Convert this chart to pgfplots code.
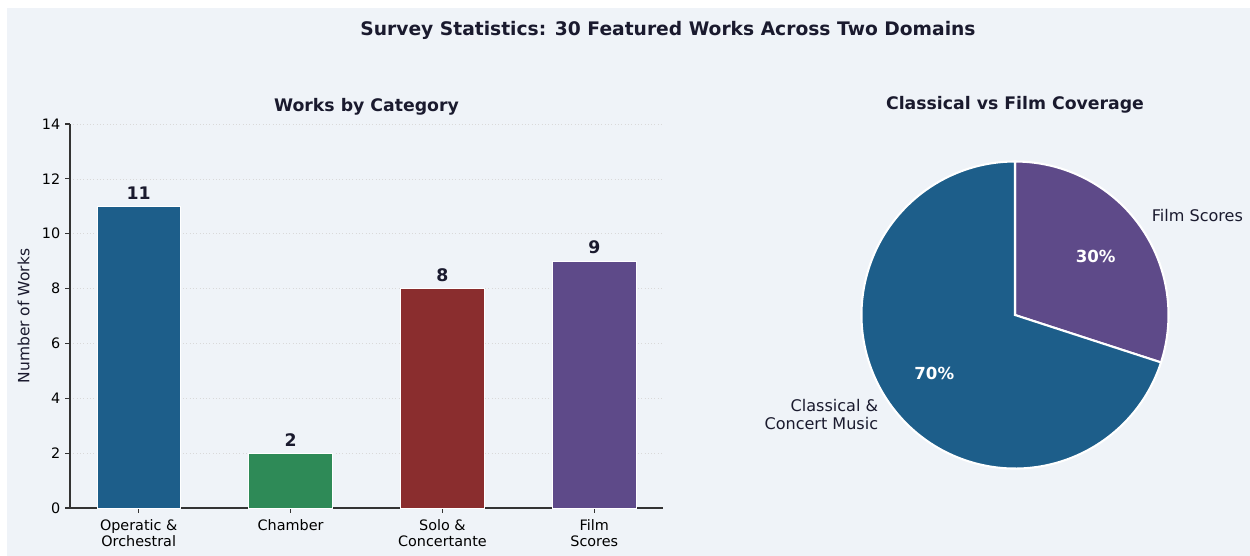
\documentclass[border=0pt]{standalone}
\usepackage{pgfplots}
\pgfplotsset{compat=1.18}
\usepackage{fontspec}
\setmainfont{DejaVu Sans}
\definecolor{bgc}{HTML}{EFF3F8}
\definecolor{txt}{HTML}{1A1A2E}
\definecolor{cblue}{HTML}{1D5E8A}
\definecolor{cgreen}{HTML}{2E8A57}
\definecolor{cred}{HTML}{8A2D2E}
\definecolor{cpurple}{HTML}{5E4A89}
\definecolor{spine}{HTML}{333333}
\begin{document}
\begin{tikzpicture}
\fill[white] (0,0) rectangle (900bp,-400.32bp);
\fill[bgc] (5.04bp,-5.76bp) rectangle (900bp,-400.32bp);
\node[font=\bfseries\fontsize{13.5}{16}\selectfont, text=txt, anchor=base] at (480.96bp,-25.6bp) {Survey Statistics: 30 Featured Works Across Two Domains};
% ---------------- bar chart ----------------
\begin{axis}[
  at={(50.4bp,-365.76bp)}, anchor=south west,
  scale only axis, width=426.96bp, height=276.48bp,
  xmin=-0.4525, xmax=3.4525, ymin=0, ymax=14,
  axis x line*=bottom, axis y line*=left,
  axis line style={spine, line width=0.8pt, -},
  xtick={0,1,2,3},
  xticklabels={{Operatic \&\\Orchestral},{Chamber},{Solo \&\\Concertante},{Film\\Scores}},
  ytick={0,2,...,14},
  tick align=outside, major tick length=3.5pt,
  tick style={spine, line width=0.8pt},
  xtick pos=bottom, ytick pos=left,
  /pgf/number format/assume math mode=true,
  ticklabel style={font=\fontsize{10.4}{11.8}\selectfont, text=black},
  xticklabel style={align=center, anchor=north, yshift=-1pt},
  ymajorgrids, grid style={dotted, gray!30, line width=0.5pt},
  ylabel={Number of Works},
  ylabel style={font=\fontsize{11.2}{13}\selectfont, text=txt, yshift=2pt},
  title={Works by Category},
  title style={font=\bfseries\fontsize{12.5}{14}\selectfont, text=txt, yshift=-3pt},
  ybar, bar width=0.55, bar shift=0pt,
  nodes near coords,
  nodes near coords style={font=\bfseries\fontsize{12.5}{14}\selectfont, text=txt, yshift=1.5pt},
  clip=false,
]
\addplot[fill=cblue, draw=white, line width=0.6pt] coordinates {(0,11)};
\addplot[fill=cgreen, draw=white, line width=0.6pt] coordinates {(1,2)};
\addplot[fill=cred, draw=white, line width=0.6pt] coordinates {(2,8)};
\addplot[fill=cpurple, draw=white, line width=0.6pt] coordinates {(3,9)};
\end{axis}
% ---------------- pie chart ----------------
\begin{axis}[
  at={(730.8bp,-226.8bp)}, anchor=center,
  x=110.52bp, y=110.52bp,
  xmin=-1, xmax=1, ymin=-1, ymax=1,
  hide axis, clip=false,
]
% Classical & Concert Music 70, Film Scores 30 (start angle 90, clockwise)
\fill[cpurple, draw=white, line width=1.5pt] (axis cs:0,0) -- (axis cs:0,1) arc[start angle=90, end angle={90-30*3.6}, radius=110.52bp] -- cycle;
\fill[cblue, draw=white, line width=1.5pt] (axis cs:0,0) -- (axis cs:{cos(90-30*3.6)},{sin(90-30*3.6)}) arc[start angle={90-30*3.6}, end angle=-270, radius=110.52bp] -- cycle;
\node[font=\bfseries\fontsize{12}{14}\selectfont, text=white] at (axis cs:{0.65*cos(36)},{0.65*sin(36)}) {30\%};
\node[font=\bfseries\fontsize{12}{14}\selectfont, text=white] at (axis cs:{0.65*cos(216)},{0.65*sin(216)}) {70\%};
\node[font=\fontsize{11.6}{13.2}\selectfont, text=txt, anchor=west, inner sep=0pt] at (axis cs:{1.1*cos(36)},{1.1*sin(36)}) {Film Scores};
\node[font=\fontsize{11.6}{13.2}\selectfont, text=txt, anchor=east, align=right, inner sep=0pt] at (axis cs:{1.1*cos(216)},{1.1*sin(216)}) {Classical \&\\Concert Music};
\node[font=\bfseries\fontsize{12.5}{14}\selectfont, text=txt, anchor=base] at (axis cs:0,{(315-109.5)/153.5}) {Classical vs Film Coverage};
\end{axis}
\pgfresetboundingbox
\useasboundingbox (0,0) rectangle (900bp,-400.32bp);
\end{tikzpicture}
\end{document}
